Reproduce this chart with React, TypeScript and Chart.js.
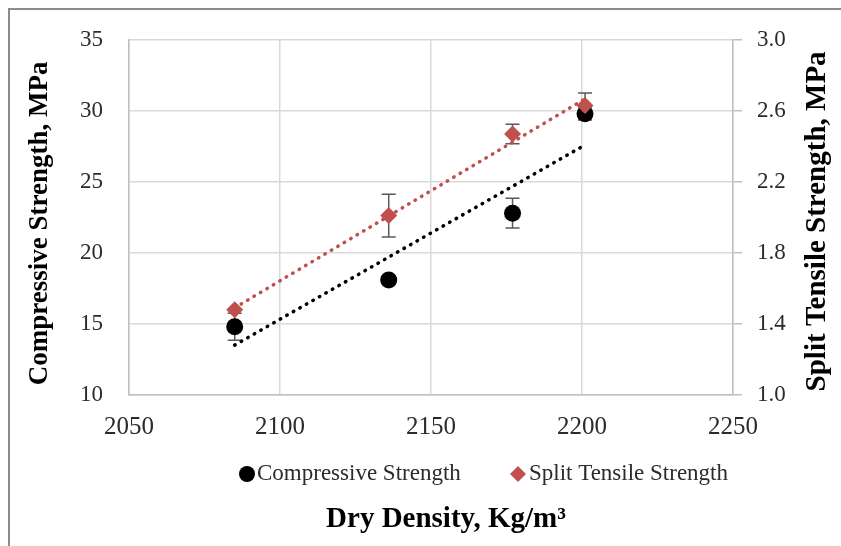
import React, { useEffect, useRef } from "react";
import { Chart, registerables } from "chart.js";

Chart.register(...registerables);

const dryDensity = [2085, 2136, 2177, 2201];
const compressive = [14.8, 18.1, 22.8, 29.8];
const compressiveErr = [0.95, 0.3, 1.05, 0.45];
const splitTensile = [1.48, 2.01, 2.47, 2.63];
const splitTensileErr = [0, 0.12, 0.055, 0.07];

const seriesNames = ["Compressive Strength", "Split Tensile Strength"];
const xTitle = "Dry Density, Kg/m³";
const yTitle = "Compressive Strength, MPa";
const y2Title = "Split Tensile Strength, MPa";

const FONT = "'Liberation Serif', 'Times New Roman', serif";
const RED = "#c0504d";
const TEXT = "#2b2b2b";

function linearFit(xs: number[], ys: number[]) {
  const n = xs.length;
  const mx = xs.reduce((a, b) => a + b, 0) / n;
  const my = ys.reduce((a, b) => a + b, 0) / n;
  let sxy = 0;
  let sxx = 0;
  for (let i = 0; i < n; i++) {
    sxy += (xs[i] - mx) * (ys[i] - my);
    sxx += (xs[i] - mx) * (xs[i] - mx);
  }
  const slope = sxy / sxx;
  const x0 = Math.min(...xs);
  const x1 = Math.max(...xs);
  return [
    { x: x0, y: my + slope * (x0 - mx) },
    { x: x1, y: my + slope * (x1 - mx) },
  ];
}

const extrasPlugin = {
  id: "extras",
  beforeDatasetsDraw(chart: any) {
    const ctx = chart.ctx;
    const xs = chart.scales.x;
    const ys = chart.scales.y;
    const y2s = chart.scales.y2;
    ctx.save();
    ctx.strokeStyle = "#595959";
    ctx.lineWidth = 1.5;
    const drawBar = (xv: number, v: number, e: number, scale: any) => {
      if (!e) return;
      const px = xs.getPixelForValue(xv);
      const top = scale.getPixelForValue(v + e);
      const bot = scale.getPixelForValue(v - e);
      ctx.beginPath();
      ctx.moveTo(px, top);
      ctx.lineTo(px, bot);
      ctx.moveTo(px - 7, top);
      ctx.lineTo(px + 7, top);
      ctx.moveTo(px - 7, bot);
      ctx.lineTo(px + 7, bot);
      ctx.stroke();
    };
    dryDensity.forEach((d, i) => drawBar(d, compressive[i], compressiveErr[i], ys));
    dryDensity.forEach((d, i) => drawBar(d, splitTensile[i], splitTensileErr[i], y2s));
    ctx.restore();
  },
  afterDraw(chart: any) {
    const ctx = chart.ctx;
    const area = chart.chartArea;
    ctx.save();
    // outer frame (top & left)
    ctx.strokeStyle = "#8c8c8c";
    ctx.lineWidth = 2;
    ctx.beginPath();
    ctx.moveTo(9, 546);
    ctx.lineTo(9, 9);
    ctx.lineTo(841, 9);
    ctx.stroke();

    // legend
    ctx.font = `23px ${FONT}`;
    ctx.textBaseline = "middle";
    ctx.textAlign = "left";
    const ly = 474;
    ctx.fillStyle = "#000";
    ctx.beginPath();
    ctx.arc(247, ly, 8, 0, Math.PI * 2);
    ctx.fill();
    ctx.fillStyle = TEXT;
    ctx.fillText(seriesNames[0], 257, ly);
    ctx.fillStyle = RED;
    ctx.beginPath();
    ctx.moveTo(518 - 8, ly);
    ctx.lineTo(518, ly - 8);
    ctx.lineTo(518 + 8, ly);
    ctx.lineTo(518, ly + 8);
    ctx.closePath();
    ctx.fill();
    ctx.fillStyle = TEXT;
    ctx.fillText(seriesNames[1], 529, ly);

    // axis titles
    ctx.fillStyle = "#000";
    ctx.textAlign = "center";
    ctx.textBaseline = "middle";
    ctx.font = `bold 29px ${FONT}`;
    ctx.fillText(xTitle, 446, 520);

    const cy = (area.top + area.bottom) / 2;
    ctx.font = `bold 27px ${FONT}`;
    ctx.save();
    ctx.translate(40, cy + 6);
    ctx.rotate(-Math.PI / 2);
    ctx.fillText(yTitle, 0, 0);
    ctx.restore();

    ctx.font = `bold 29px ${FONT}`;
    ctx.save();
    ctx.translate(818, cy + 4);
    ctx.rotate(-Math.PI / 2);
    ctx.fillText(y2Title, 0, 0);
    ctx.restore();
    ctx.restore();
  },
};

export default function App() {
  const canvasRef = useRef<HTMLCanvasElement | null>(null);

  useEffect(() => {
    if (!canvasRef.current) return;
    const compPts = dryDensity.map((x, i) => ({ x, y: compressive[i] }));
    const splitPts = dryDensity.map((x, i) => ({ x, y: splitTensile[i] }));
    const chart = new Chart(canvasRef.current, {
      type: "scatter",
      data: {
        datasets: [
          {
            label: seriesNames[1],
            data: splitPts,
            yAxisID: "y2",
            pointStyle: "rectRot",
            pointRadius: 8.5,
            backgroundColor: RED,
            borderColor: RED,
            borderWidth: 0,
            order: 1,
          } as any,
          {
            label: seriesNames[0],
            data: compPts,
            yAxisID: "y",
            pointStyle: "circle",
            pointRadius: 8.5,
            backgroundColor: "#000",
            borderColor: "#000",
            borderWidth: 0,
            order: 2,
          },
          {
            label: "trend compressive",
            data: linearFit(dryDensity, compressive),
            yAxisID: "y",
            showLine: true,
            pointRadius: 0,
            borderColor: "#000",
            borderWidth: 3.5,
            borderDash: [0.5, 7],
            borderCapStyle: "round",
            order: 3,
          },
          {
            label: "trend split",
            data: linearFit(dryDensity, splitTensile),
            yAxisID: "y2",
            showLine: true,
            pointRadius: 0,
            borderColor: RED,
            borderWidth: 3.5,
            borderDash: [0.5, 7],
            borderCapStyle: "round",
            order: 4,
          },
        ],
      },
      options: {
        responsive: false,
        animation: false,
        events: [],
        layout: { padding: { top: 36, left: 0, right: 0, bottom: 101 } },
        plugins: {
          legend: { display: false },
          tooltip: { enabled: false },
          title: { display: false },
        },
        scales: {
          x: {
            type: "linear",
            position: "bottom",
            min: 2050,
            max: 2250,
            ticks: {
              stepSize: 50,
              padding: 17,
              color: TEXT,
              font: { family: FONT, size: 25 },
              callback: (v: any) => String(v),
            },
            grid: { color: "#d9d9d9", lineWidth: 1.5, drawTicks: false },
            border: { display: true, color: "#bfbfbf", width: 1.5 },
            afterFit: (s: any) => {
              s.height = 50;
            },
          },
          y: {
            type: "linear",
            position: "left",
            min: 10,
            max: 35,
            ticks: {
              stepSize: 5,
              padding: 26,
              color: TEXT,
              font: { family: FONT, size: 23 },
            },
            grid: { color: "#d9d9d9", lineWidth: 1.5, drawTicks: false },
            border: { display: true, color: "#bfbfbf", width: 1.5 },
            afterFit: (s: any) => {
              s.width = 129;
            },
          },
          y2: {
            type: "linear",
            position: "right",
            min: 1.0,
            max: 3.0,
            ticks: {
              stepSize: 0.4,
              padding: 15,
              color: TEXT,
              font: { family: FONT, size: 23 },
              callback: (v: any) => Number(v).toFixed(1),
            },
            grid: {
              drawOnChartArea: false,
              drawTicks: true,
              tickLength: 9,
              color: "#bfbfbf",
              lineWidth: 1.5,
            },
            border: { display: true, color: "#bfbfbf", width: 1.5 },
            afterFit: (s: any) => {
              s.width = 108;
            },
          },
        },
      },
      plugins: [extrasPlugin],
    });
    return () => chart.destroy();
  }, []);

  return (
    <div style={{ position: "fixed", left: 0, top: 0, width: 841, height: 546, background: "#fff" }}>
      <canvas ref={canvasRef} width={841} height={546} style={{ display: "block" }} />
    </div>
  );
}
